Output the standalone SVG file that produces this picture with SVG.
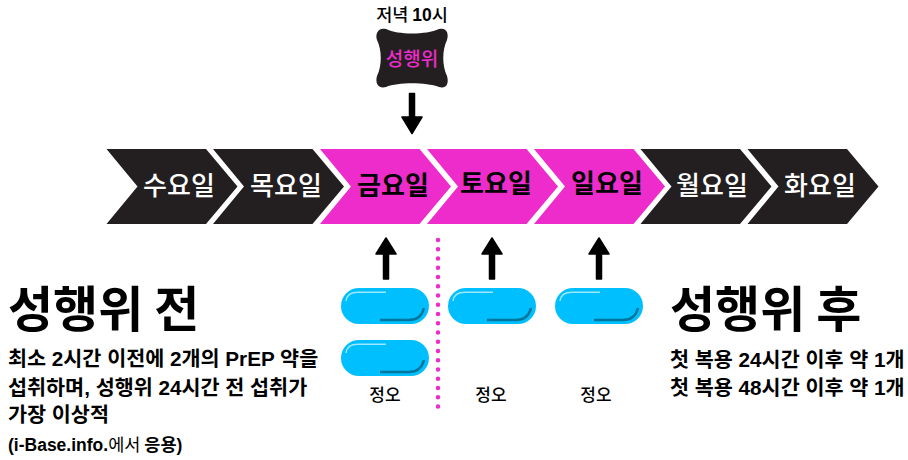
<svg xmlns="http://www.w3.org/2000/svg" width="908" height="460" viewBox="0 0 908 460">
<style>
text{font-family:"Noto Sans CJK KR","Liberation Sans",sans-serif;fill:#000;font-weight:700}
.n{font-family:"Liberation Sans","Noto Sans CJK KR",sans-serif}
.day{font-size:26px;text-anchor:middle;font-weight:500}
.w{fill:#fff}.k{fill:#000;font-weight:700}
.dk{fill:#231f20}.mg{fill:#ee2ccb}
.h{font-size:49px;font-weight:700}
.b{font-size:20.700px;font-weight:700;font-family:"Liberation Sans","Noto Sans CJK KR",sans-serif}
.s{font-size:17px;text-anchor:middle;font-weight:500}
</style>
<defs>
<path id="chev" d="M0 0H99.500L131 37.500L99.500 75H0L31 37.500Z"/>
<g id="pill">
<rect x="0" y="0" width="88" height="36" rx="18" fill="#00bfff"/>
<path d="M45 4.200H17Q6 4.200 5 13" fill="none" stroke="#9fe6ff" stroke-width="1.500"/>
<path d="M39 32H68Q80 32 83 20" fill="none" stroke="#00759c" stroke-width="2.500"/>
</g>
<path id="up" d="M-2.500 50V25H-10L0 9L10 25H2.500V50Z" fill="#000" stroke="#000" stroke-width="1.500" stroke-linejoin="round"/>
</defs>
<g id="connectors">
<path id="arrow-top" d="M409.500 93.500H414.500V117H422L412 133.500L402 117H409.500Z" fill="#000" stroke="#000" stroke-width="1.500" stroke-linejoin="round"/>
<use href="#up" x="386" y="229"/>
<use href="#up" x="492" y="229"/>
<use href="#up" x="599" y="229"/>
<line x1="438" y1="240" x2="438" y2="409" stroke="#ee2ccb" stroke-width="4.500" stroke-linecap="round" stroke-dasharray="0 9.250"/>
</g>
<g id="node-act">
<text x="412" y="20.500" font-size="17.500" text-anchor="middle" style="font-weight:500">저녁 <tspan class="n" style="font-weight:700">10</tspan>시</text>
<path d="M386 29C398 35 426 35 439 29C447 27 449 34 447 40C442 50 442 66 447 76C449 83 447 89 439 87C426 82 398 82 386 87C378 89 375 83 377 76C382 66 382 50 377 40C375 34 378 27 386 29Z" class="dk"/>
<text x="412" y="66" font-size="19" text-anchor="middle" style="fill:#ee2ccb;font-weight:500">성행위</text>
</g>
<g id="day-wed"><use href="#chev" x="106.500" y="149" class="dk"/><text x="179" y="195" class="day w">수요일</text></g>
<g id="day-thu"><use href="#chev" x="213" y="149" class="dk"/><text x="286" y="195" class="day w">목요일</text></g>
<g id="day-fri"><use href="#chev" x="320" y="149" class="mg"/><text x="393" y="195" class="day k">금요일</text></g>
<g id="day-sat"><use href="#chev" x="427" y="149" class="mg"/><text x="496" y="193" class="day k">토요일</text></g>
<g id="day-sun"><use href="#chev" x="534" y="149" class="mg"/><text x="607" y="193" class="day k">일요일</text></g>
<g id="day-mon"><use href="#chev" x="640.500" y="149" class="dk"/><text x="712" y="195" class="day w">월요일</text></g>
<g id="day-tue"><use href="#chev" x="747.500" y="149" class="dk"/><text x="820" y="195" class="day w">화요일</text></g>
<g id="pill-1"><use href="#pill" x="341" y="288"/></g>
<g id="pill-2"><use href="#pill" x="341" y="340"/></g>
<g id="pill-3"><use href="#pill" x="448" y="288"/></g>
<g id="pill-4"><use href="#pill" x="555" y="288"/></g>
<text x="385" y="401" class="s">정오</text>
<text x="491" y="401" class="s">정오</text>
<text x="596" y="401" class="s">정오</text>
<g id="before">
<text x="8" y="327" class="h">성행위 전</text>
<text x="8" y="366" class="b">최소 2시간 이전에 2개의 PrEP 약을</text>
<text x="8" y="395" class="b">섭취하며, 성행위 24시간 전 섭취가</text>
<text x="8" y="422" class="b">가장 이상적</text>
<text x="8" y="451" font-size="17.500"><tspan class="n">(i-Base.info.</tspan><tspan style="font-weight:400">에서</tspan> 응용<tspan class="n">)</tspan></text>
</g>
<g id="after">
<text x="670" y="367" class="b">첫 복용 24시간 이후 약 1개</text>
<text x="670" y="395" class="b">첫 복용 48시간 이후 약 1개</text>
<text x="670" y="327" class="h">성행위 후</text>
</g>
</svg>
